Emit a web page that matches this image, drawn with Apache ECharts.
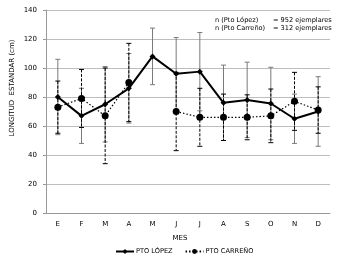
<!DOCTYPE html>
<html>
<head>
<meta charset="utf-8">
<script src="https://cdn.jsdelivr.net/npm/echarts@6/dist/echarts.min.js"></script>
<style>
  html, body { margin: 0; padding: 0; background: #fff; }
  #chart { width: 341px; height: 264px; }
</style>
</head>
<body>
<div id="chart"></div>
<script>
// meses
const months = ['E', 'F', 'M', 'A', 'M', 'J', 'J', 'A', 'S', 'O', 'N', 'D'];

// Pto López: media y desviación
const lopezMean = [80, 67, 75, 86, 108, 96, 97.5, 76, 78, 75.5, 65, 70];
const lopezErr = [26, 19, 26, 24, 19.5, 25, 27, 26, 26, 25, 17, 24];

// Pto Carreño (sin dato en mayo)
const carrenoMean = [73, 79, 67, 90, null, 70, 66, 66, 66, 67, 77, 71];
const carrenoErr = [18, 20, 33, 27, null, 27, 20, 16, 15.5, 18.5, 20, 16];

const yTicks = [0, 20, 40, 60, 80, 100, 120, 140];

const font = 'DejaVu Sans, Verdana, sans-serif';

const toBars = (mean, err) =>
  mean.map((m, i) => (m == null ? [i, null, null] : [i, m - err[i], m + err[i]]));

const errorBar = (color, dashed) => (params, api) => {
  const lo = api.value(1);
  const hi = api.value(2);
  if (lo == null || hi == null || isNaN(lo)) return null;
  const top = api.coord([api.value(0), hi]);
  const bot = api.coord([api.value(0), lo]);
  const w = 2.5;
  const style = { stroke: color, lineWidth: 1, lineDash: dashed ? [3, 1.5] : null };
  return {
    type: 'group',
    children: [
      { type: 'line', shape: { x1: top[0], y1: top[1], x2: bot[0], y2: bot[1] }, style },
      { type: 'line', shape: { x1: top[0] - w, y1: top[1], x2: top[0] + w, y2: top[1] }, style: { stroke: color, lineWidth: 1 } },
      { type: 'line', shape: { x1: bot[0] - w, y1: bot[1], x2: bot[0] + w, y2: bot[1] }, style: { stroke: color, lineWidth: 1 } }
    ]
  };
};

const small = (text, x, y, extra) => ({
  type: 'text',
  x, y,
  style: Object.assign({ text, font: '6.6px ' + font, fill: '#000', textVerticalAlign: 'middle' }, extra || {}),
  z: 10
});

const chart = echarts.init(document.getElementById('chart'), null, { renderer: 'canvas' });

chart.setOption({
  animation: false,
  textStyle: { fontFamily: font },
  grid: { left: 46, right: 11, top: 10, bottom: 51 },
  graphic: [
    small('n (Pto López)', 215, 20),
    small('= 952 ejemplares', 273, 20),
    small('n (Pto Carreño)', 215, 28),
    small('= 312 ejemplares', 273, 28),
    {
      type: 'text',
      x: 12, y: 88,
      rotation: Math.PI / 2,
      style: { text: 'LONGITUD  ESTANDAR (cm)', font: '7px ' + font, fill: '#000', textAlign: 'center', textVerticalAlign: 'middle' }
    },
    small('MES', 180, 238, { textAlign: 'center', font: '7px ' + font })
  ],
  legend: {
    bottom: 4,
    left: 110,
    itemWidth: 18,
    itemHeight: 6,
    itemGap: 12,
    textStyle: { fontSize: 6.6, fontFamily: font, color: '#000', padding: [0, 0, 0, -3] },
    data: ['PTO LÓPEZ', 'PTO CARREÑO']
  },
  xAxis: {
    type: 'category',
    data: months,
    boundaryGap: true,
    axisLine: { lineStyle: { color: '#999' } },
    axisTick: { lineStyle: { color: '#999' }, length: 3 },
    axisLabel: { fontSize: 7, color: '#000', margin: 8 }
  },
  yAxis: {
    type: 'value',
    min: yTicks[0],
    max: yTicks[yTicks.length - 1],
    interval: 20,
    axisLine: { show: true, lineStyle: { color: '#999' } },
    axisTick: { show: true, length: 3, lineStyle: { color: '#999' } },
    axisLabel: { fontSize: 7, color: '#000', margin: 9 },
    splitLine: { lineStyle: { color: '#bdbdbd' } }
  },
  series: [
    {
      name: 'err-lopez',
      type: 'custom',
      renderItem: errorBar('#7a7a7a', false),
      data: toBars(lopezMean, lopezErr),
      encode: { x: 0, y: [1, 2] },
      z: 2
    },
    {
      name: 'err-carreno',
      type: 'custom',
      renderItem: errorBar('#000', true),
      data: toBars(carrenoMean, carrenoErr),
      encode: { x: 0, y: [1, 2] },
      z: 3
    },
    {
      name: 'PTO LÓPEZ',
      type: 'line',
      data: lopezMean,
      symbol: 'diamond',
      symbolSize: 6,
      lineStyle: { color: '#000', width: 2 },
      itemStyle: { color: '#000' },
      z: 5
    },
    {
      name: 'PTO CARREÑO',
      type: 'line',
      data: carrenoMean,
      connectNulls: false,
      symbol: 'circle',
      symbolSize: 7,
      lineStyle: { color: '#000', width: 1.2, type: [1.5, 2] },
      itemStyle: { color: '#000' },
      z: 4
    }
  ]
});
</script>
</body>
</html>
